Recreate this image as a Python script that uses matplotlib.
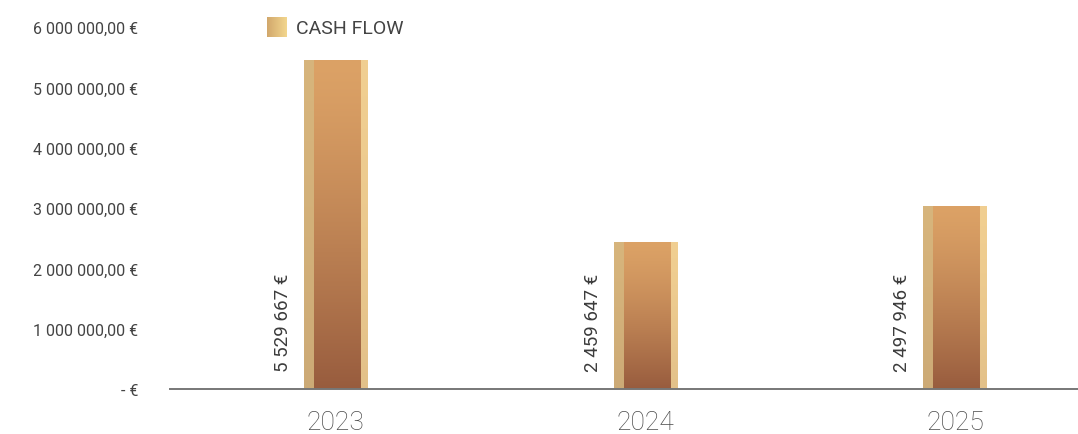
import matplotlib.pyplot as plt
import numpy as np

plt.rcParams["font.family"] = ["Roboto", "DejaVu Sans"]

years = ["2023", "2024", "2025"]
cash_flow = [5460000, 2440000, 3040000]
value_labels = ["5 529 667 €", "2 459 647 €", "2 497 946 €"]
ytick_values = [0, 1000000, 2000000, 3000000, 4000000, 5000000, 6000000]
ytick_labels = ["- €", "1 000 000,00 €", "2 000 000,00 €", "3 000 000,00 €",
                "4 000 000,00 €", "5 000 000,00 €", "6 000 000,00 €"]

W, H = 1078, 435
fig = plt.figure(figsize=(W / 100, H / 100), dpi=100)
ax = fig.add_axes([170 / W, 45 / H, 908 / W, 362 / H])


def bar_texture(n=200, m=64):
    # vertical shade: orange on top, brown at the bottom
    t = np.linspace(0, 1, n)[:, None] ** 1.3
    top = np.array([220, 162, 102]) / 255
    bot = np.array([152, 92, 62]) / 255
    body = top * (1 - t[..., None]) + bot * t[..., None]
    body = np.repeat(body, m, axis=1)
    xs = np.linspace(0, 1, m)
    left = np.array([214, 184, 128]) / 255
    right = np.array([246, 218, 156]) / 255
    img = body.copy()
    img[:, xs < 0.15] = left * 0.85 + body[:, xs < 0.15] * 0.15
    img[:, xs > 0.89] = right * 0.8 + body[:, xs > 0.89] * 0.2
    return img


width = 0.205
bars = ax.bar(range(len(years)), cash_flow, width=width, color="none",
              edgecolor="none", zorder=2)
tex = bar_texture()
for rect in bars:
    x0, w, h = rect.get_x(), rect.get_width(), rect.get_height()
    im = ax.imshow(tex, extent=[x0, x0 + w, 0, h], aspect="auto",
                   origin="upper", zorder=2, interpolation="bilinear")
    im.set_clip_path(rect)

for i, lab in enumerate(value_labels):
    ax.annotate(lab, xy=(i, 0), xytext=(-38, 13), textcoords="offset points",
                rotation=90, ha="center", va="bottom", fontsize=13.5,
                color="#3c3c3c")

ax.set_xlim(-0.536, 2.397)
ax.set_ylim(0, 6000000)
ax.set_xticks(range(len(years)))
ax.set_xticklabels(years, fontsize=19, color="#4a4a4a", fontweight="light")
ax.set_yticks(ytick_values)
ax.set_yticklabels(ytick_labels, fontsize=11.5, color="#444444")
ax.tick_params(axis="both", length=0)
ax.tick_params(axis="x", pad=15)
ax.tick_params(axis="y", pad=23)
for s in ["left", "right", "top"]:
    ax.spines[s].set_visible(False)
ax.spines["bottom"].set_color("#777777")
ax.spines["bottom"].set_linewidth(1.4)

# legend
lax = fig.add_axes([267 / W, 1 - 38 / H, 20 / W, 20 / H])
grad = np.linspace(0, 1, 32)[None, :, None]
c1 = np.array([210, 168, 108]) / 255
c2 = np.array([242, 214, 142]) / 255
lax.imshow(c1 * (1 - grad) + c2 * grad, aspect="auto")
lax.axis("off")
fig.text(296 / W, 1 - 29 / H, "CASH FLOW", fontsize=14, color="#444444",
         va="center", ha="left")

fig.savefig("out.png", dpi=100)
